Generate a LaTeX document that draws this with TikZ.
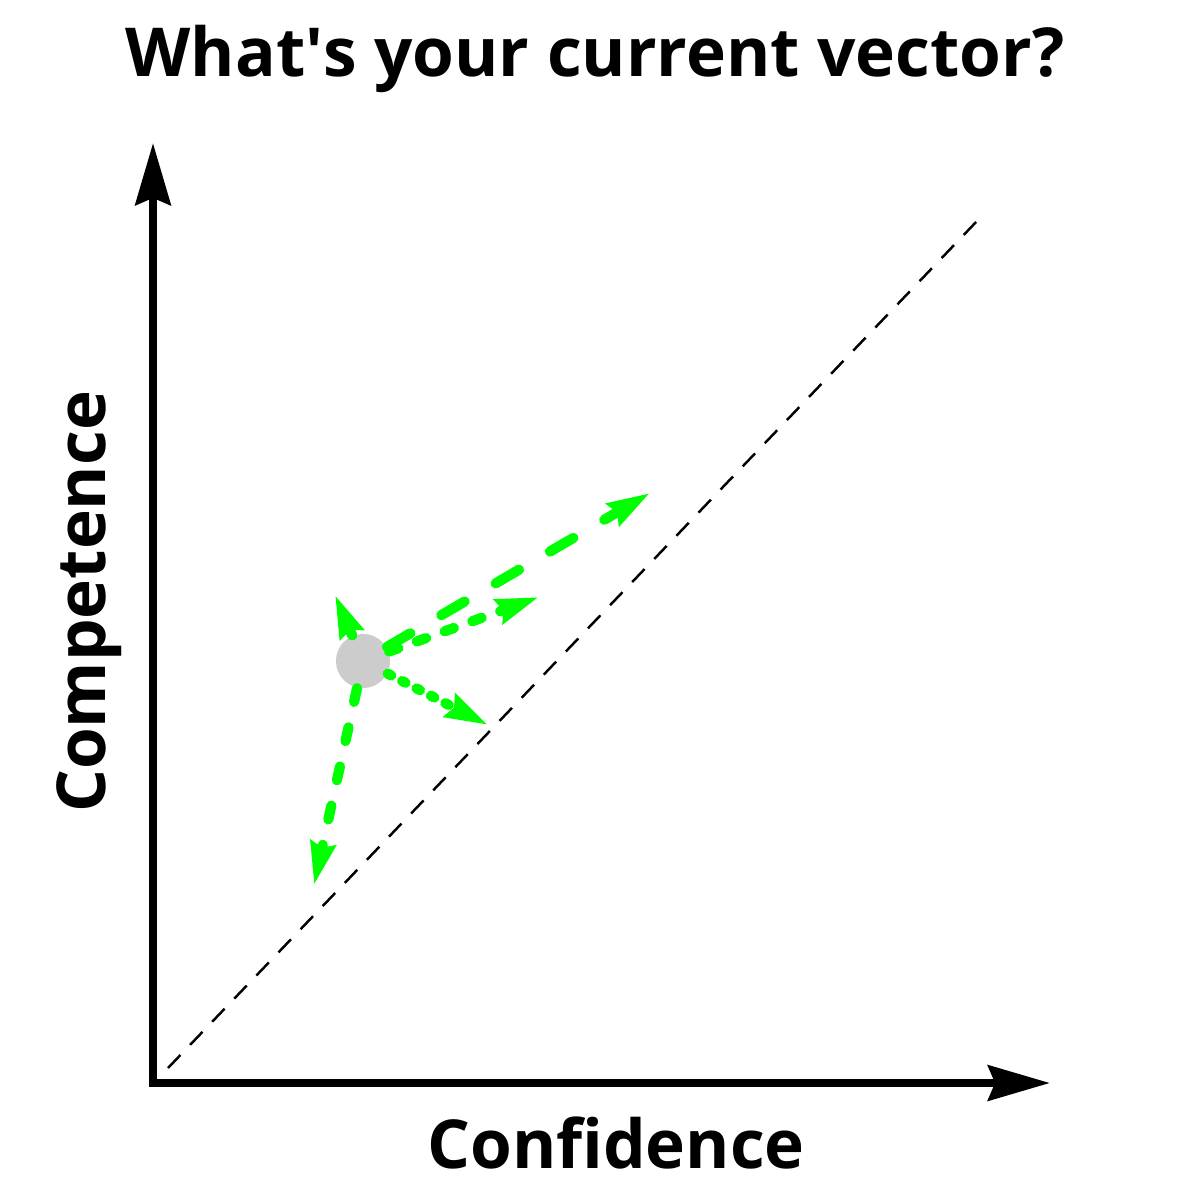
\documentclass[tikz,border=0pt]{standalone}
\usepackage{fontspec}
\setmainfont{Open Sans}
\usetikzlibrary{arrows.meta}
\definecolor{vgreen}{HTML}{00FF00}
\definecolor{dotgray}{HTML}{CCCCCC}

\begin{document}
\begin{tikzpicture}[x=0.01cm,y=-0.01cm,
  axis/.style={line width=2.3pt,{Stealth[length=17.6pt,width=10pt,inset=2pt]}-{Stealth[length=17.6pt,width=10pt,inset=2pt]}},
  diag/.style={line width=0.7pt,dash pattern=on 5.1pt off 4pt},
  move/.style={draw=vgreen,line width=2.9pt,line cap=round,-{Stealth[length=12pt,width=7pt,inset=1.2pt]}},
  longdash/.style={dash pattern=on 7.7pt off 10.2pt},
  shortdash/.style={dash pattern=on 2.8pt off 5.6pt},
  dotdash/.style={dash pattern=on 1.1pt off 3.5pt},
  middash/.style={dash pattern=on 4pt off 7.4pt},
  lbl/.style={font=\bfseries\fontsize{19.2}{23}\selectfont,inner sep=0pt}]
\useasboundingbox (0,0) rectangle (1200,1200);
\node[lbl,anchor=base] (title) at (595,77) {What\textquotesingle s your current vector?};
\node[lbl,anchor=base] (xlabel) at (616,1168) {Confidence};
\node[lbl,anchor=base,rotate=90] (ylabel) at (105,602) {Competence};
\coordinate (O) at (153,1083);
\coordinate (ytop) at (153,143);
\coordinate (xend) at (1050,1083);
\draw[axis] (ytop) -- (O) -- (xend);
\coordinate (d0) at (168,1068);
\coordinate (d1) at (978,220);
\draw[diag] (d0) -- (d1);
\node[circle,fill=dotgray,minimum size=15.4pt,inner sep=0pt] (me) at (363,661) {};
\coordinate (t1) at (650,493);
\coordinate (t2) at (539,597);
\coordinate (t3) at (488,725);
\coordinate (t4) at (314,885);
\coordinate (t5) at (335,595);
\draw[move,longdash] (me) -- (t1);
\draw[move,shortdash] (me) -- (t2);
\draw[move,dotdash] (me) -- (t3);
\draw[move,middash] (me) -- (t4);
\draw[move] (me) -- (t5);
\end{tikzpicture}
\end{document}
